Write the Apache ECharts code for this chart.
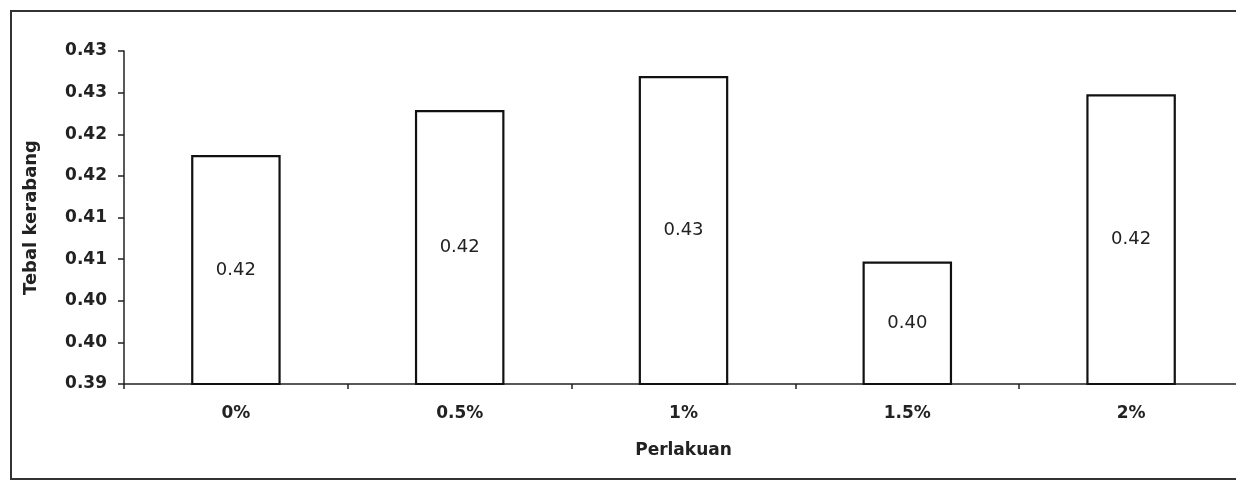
<!DOCTYPE html>
<html>
<head>
<meta charset="utf-8">
<script src="https://cdn.jsdelivr.net/npm/echarts@6/dist/echarts.min.js"></script>
<style>
html,body{margin:0;padding:0;background:#fff;overflow:hidden;width:1236px;height:482px;}
#chart{width:1244px;height:482px;}
</style>
</head>
<body>
<div id="chart"></div>
<script>
const categories = ['0%', '0.5%', '1%', '1.5%', '2%'];
const values = [0.4175, 0.4229, 0.4270, 0.4047, 0.4248];
const yTickLabels = ['0.39', '0.40', '0.40', '0.41', '0.41', '0.42', '0.42', '0.43', '0.43'];
const xAxisTitle = 'Perlakuan';
const yAxisTitle = 'Tebal kerabang';

const FONT = 'DejaVu Sans';
const chart = echarts.init(document.getElementById('chart'), null, {renderer: 'canvas'});
chart.setOption({
  backgroundColor: '#ffffff',
  animation: false,
  graphic: [{
    type: 'rect', z: -10, silent: true,
    shape: {x: 11, y: 11, width: 1300, height: 468},
    style: {fill: 'none', stroke: '#333', lineWidth: 2}
  }],
  grid: {left: 124, top: 51, height: 333, width: 1119, containLabel: false},
  xAxis: {
    type: 'category',
    data: categories,
    name: xAxisTitle,
    nameLocation: 'middle',
    nameGap: 58,
    nameTextStyle: {fontFamily: FONT, fontWeight: 'bold', fontSize: 17, color: '#222'},
    axisLine: {lineStyle: {color: '#222', width: 1.5}},
    axisTick: {show: true, length: 5, lineStyle: {color: '#222', width: 1.5}},
    axisLabel: {fontFamily: FONT, fontWeight: 'bold', fontSize: 17, color: '#222', margin: 21},
    splitLine: {show: false}
  },
  yAxis: {
    type: 'value',
    min: 0.39, max: 0.43, interval: 0.005,
    name: yAxisTitle,
    nameLocation: 'middle',
    nameGap: 84,
    nameRotate: 90,
    nameTextStyle: {fontFamily: FONT, fontWeight: 'bold', fontSize: 18, color: '#222'},
    axisLine: {show: true, lineStyle: {color: '#222', width: 1.5}},
    axisTick: {show: true, length: 6, lineStyle: {color: '#222', width: 1.5}},
    axisLabel: {
      fontFamily: FONT, fontWeight: 'bold', fontSize: 17, color: '#222', margin: 17,
      formatter: (v, i) => yTickLabels[i]
    },
    splitLine: {show: false}
  },
  series: [{
    type: 'bar',
    data: values,
    barCategoryGap: '60%',
    itemStyle: {color: '#ffffff', borderColor: '#111', borderWidth: 2.2},
    label: {
      show: true, position: 'inside',
      fontFamily: FONT, fontSize: 18, color: '#222',
      formatter: p => p.value.toFixed(2)
    }
  }]
});
</script>
</body>
</html>
